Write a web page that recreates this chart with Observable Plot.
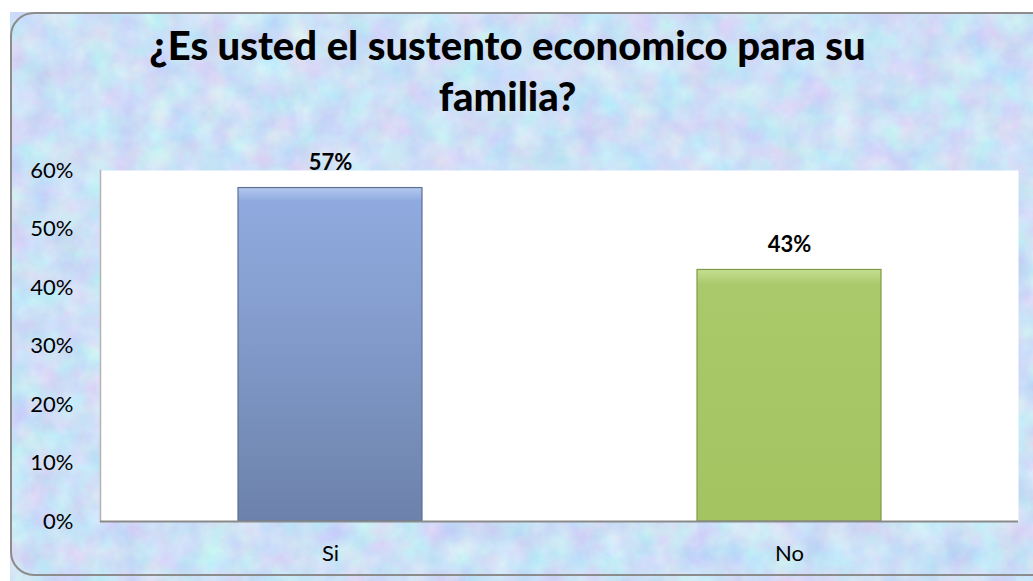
<!DOCTYPE html>
<html>
<head>
<meta charset="utf-8">
<script src="https://cdn.jsdelivr.net/npm/d3@7"></script>
<script src="https://cdn.jsdelivr.net/npm/@observablehq/plot@0.6"></script>
<style>
  html, body { margin: 0; padding: 0; background: #fff; }
  #wrap { position: relative; width: 1033px; height: 581px; overflow: hidden; font-family: Lato, sans-serif; }
  #bg { position: absolute; left: 0; top: 0; }
  #frame { position: absolute; left: 10px; top: 12px; width: 1050px; height: 564px; border: 2px solid #8c8c8c; border-radius: 24px; box-sizing: border-box; pointer-events: none; }
  #title { position: relative; width: 1015px; height: 130px; box-sizing: border-box; padding-top: 20px; text-align: center; font-family: Lato, sans-serif; font-weight: 900; font-size: 40px; line-height: 51px; color: #000; white-space: nowrap; }
  #chart { position: relative; }
</style>
</head>
<body>
<div id="wrap">
  <svg id="bg" width="1033" height="581" xmlns="http://www.w3.org/2000/svg">
    <defs>
      <filter id="noise" x="0" y="0" width="100%" height="100%" color-interpolation-filters="sRGB">
        <feTurbulence type="fractalNoise" baseFrequency="0.035" numOctaves="4" seed="7"/>
        <feColorMatrix type="matrix" values="0.22 0 0 0 0.69  0 0.2 0 0 0.78  0 0 0.06 0 0.935  0 0 0 0 1"/>
      </filter>
    </defs>
    <rect x="0" y="0" width="1033" height="581" fill="#ffffff"/>
    <rect x="10" y="12" width="1040" height="580" rx="24" filter="url(#noise)"/>
  </svg>
  <div id="frame"></div>
  <div id="title">¿Es usted el sustento economico para su<br>familia?</div>
  <div id="chart"></div>
</div>
<script>
const categories = ["Si", "No"];
const values = [0.57, 0.43];
const valueLabels = ["57%", "43%"];
const yTicks = [0, 0.1, 0.2, 0.3, 0.4, 0.5, 0.6];

const data = categories.map((c, i) => ({cat: c, value: values[i], label: valueLabels[i]}));

const chart = Plot.plot({
  width: 1033,
  height: 451,
  marginTop: 40,
  marginBottom: 60,
  marginLeft: 100,
  marginRight: 15,
  style: {background: "transparent", fontFamily: "Lato, sans-serif", fontSize: "22px", color: "#000"},
  x: {domain: categories, paddingInner: 0.6, paddingOuter: 0.3, label: null, tickSize: 0, tickPadding: 24},
  y: {domain: [0, 0.6], ticks: yTicks, tickFormat: d3.format(".0%"), label: null, tickSize: 0, tickPadding: 27},
  marks: [
    Plot.frame({fill: "white", stroke: null}),
    Plot.frame({anchor: "left", stroke: "#b4b4b4", strokeWidth: 1.5}),
    Plot.barY(data.filter(d => d.cat === "Si"), {x: "cat", y: "value", fill: "url(#gSi)", stroke: "#5d7095", strokeWidth: 1.2}),
    Plot.barY(data.filter(d => d.cat === "No"), {x: "cat", y: "value", fill: "url(#gNo)", stroke: "#7e9c46", strokeWidth: 1.2}),
    Plot.text(data, {x: "cat", y: "value", text: "label", dy: -25, fontWeight: "bold", fontSize: 22, fill: "#000"}),
    Plot.ruleY([0], {stroke: "#8a8a8a", strokeWidth: 2})
  ]
});

chart.insertAdjacentHTML("afterbegin", `
<defs>
  <linearGradient id="gSi" x1="0" y1="0" x2="0" y2="1">
    <stop offset="0" stop-color="#b4c9ef"/>
    <stop offset="0.04" stop-color="#8faade"/>
    <stop offset="0.35" stop-color="#869fd0"/>
    <stop offset="1" stop-color="#6c82ab"/>
  </linearGradient>
  <linearGradient id="gNo" x1="0" y1="0" x2="0" y2="1">
    <stop offset="0" stop-color="#c6df92"/>
    <stop offset="0.06" stop-color="#a9c96a"/>
    <stop offset="1" stop-color="#a4c462"/>
  </linearGradient>
</defs>`);

document.getElementById("chart").appendChild(chart);
</script>
</body>
</html>
